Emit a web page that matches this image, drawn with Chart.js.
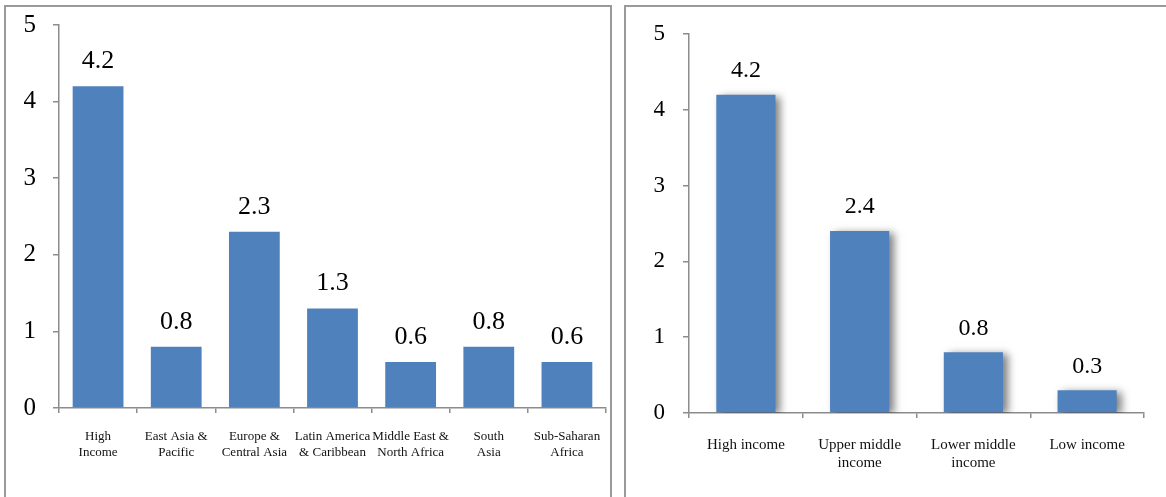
<!DOCTYPE html>
<html>
<head>
<meta charset="utf-8">
<script src="https://cdn.jsdelivr.net/npm/chart.js@4.4.1/dist/chart.umd.min.js"></script>
<style>
  html, body { margin: 0; padding: 0; background: #fff; }
  body { width: 1166px; height: 497px; position: relative; overflow: hidden; }
  .panel { position: absolute; border: 2px solid #9a9a9a; border-bottom: none; background: #fff; }
  #p1 { left: 4px; top: 5px; width: 604px; height: 500px; }
  #p2 { left: 624px; top: 5px; width: 560px; height: 500px; }
  canvas { position: absolute; }
</style>
</head>
<body>
<div class="panel" id="p1"><canvas id="c1"></canvas></div>
<div class="panel" id="p2"><canvas id="c2"></canvas></div>
<script>
// Regions
const regionLabels = [
  ["High", "Income"],
  ["East Asia &", "Pacific"],
  ["Europe &", "Central Asia"],
  ["Latin America", "& Caribbean"],
  ["Middle East &", "North Africa"],
  ["South", "Asia"],
  ["Sub-Saharan", "Africa"]
];
const regionValues = [4.2, 0.8, 2.3, 1.3, 0.6, 0.8, 0.6];

// Income groups
const incomeLabels = [
  "High income",
  ["Upper middle", "income"],
  ["Lower middle", "income"],
  "Low income"
];
const incomeValues = [4.2, 2.4, 0.8, 0.3];

const yTicks = [0, 1, 2, 3, 4, 5];

const BAR = '#4F81BD';
const AXIS = '#8c8c8c';
const SERIF = "'Liberation Serif', 'Times New Roman', serif";

// Writes each bar's value above it; optionally draws a soft shadow under the bars.
function barExtras(labelFont, labelGap, shadow) {
  return {
    id: 'barExtras',
    beforeDatasetsDraw(chart) {
      const ctx = chart.ctx;
      ctx.save();
      if (shadow) {
        ctx.shadowColor = 'rgba(0,0,0,0.5)';
        ctx.shadowBlur = 8;
        ctx.shadowOffsetX = 5;
        ctx.shadowOffsetY = 2;
      }
    },
    afterDatasetsDraw(chart) {
      const ctx = chart.ctx;
      ctx.restore();
      ctx.save();
      ctx.font = labelFont;
      ctx.fillStyle = '#000';
      ctx.textAlign = 'center';
      ctx.textBaseline = 'middle';
      const meta = chart.getDatasetMeta(0);
      const data = chart.data.datasets[0].data;
      meta.data.forEach((bar, i) => {
        ctx.fillText(data[i].toFixed(1), bar.x, bar.y - labelGap);
      });
      ctx.restore();
    }
  };
}

function makeChart(id, w, h, labels, values, cfg) {
  const canvas = document.getElementById(id);
  canvas.style.left = '0px';
  canvas.style.top = '0px';
  canvas.width = w; canvas.height = h;
  canvas.style.width = w + 'px'; canvas.style.height = h + 'px';
  return new Chart(canvas, {
    type: 'bar',
    data: {
      labels: labels,
      datasets: [{
        data: values,
        backgroundColor: BAR,
        borderWidth: 0,
        categoryPercentage: 1,
        barPercentage: cfg.barPct
      }]
    },
    options: {
      responsive: false,
      animation: false,
      events: [],
      layout: { padding: { left: 0, right: cfg.padRight, top: cfg.padTop, bottom: 0 } },
      plugins: { legend: { display: false }, tooltip: { enabled: false } },
      scales: {
        x: {
          grid: { display: true, drawOnChartArea: false, drawTicks: true, tickLength: 5, color: AXIS, lineWidth: 1.5, offset: true },
          border: { display: true, color: AXIS, width: 1.5 },
          ticks: {
            color: '#111', autoSkip: false, maxRotation: 0, minRotation: 0,
            padding: cfg.xPad,
            font: { family: SERIF, size: cfg.xFont, lineHeight: 1.2 }
          },
          afterFit(scale) {
            scale.height = cfg.xHeight;
            scale.paddingLeft = 0; scale.paddingRight = 0;
          }
        },
        y: {
          min: 0, max: 5,
          afterBuildTicks(scale) { scale.ticks = yTicks.map(v => ({ value: v })); },
          grid: { display: true, drawOnChartArea: false, drawTicks: true, tickLength: 6, color: AXIS, lineWidth: 1.5 },
          border: { display: true, color: AXIS, width: 1.5 },
          ticks: {
            color: '#000', padding: cfg.yPad,
            font: { family: SERIF, size: cfg.yFont }
          },
          afterFit(scale) {
            scale.width = cfg.yWidth;
            scale.paddingTop = 0; scale.paddingBottom = 0;
          }
        }
      }
    },
    plugins: [barExtras(cfg.labelFont, cfg.labelGap, cfg.shadow)]
  });
}

// Left panel: by region
makeChart('c1', 602, 490, regionLabels, regionValues, {
  barPct: 0.65,
  padRight: 2, padTop: 18,
  xPad: 16, xFont: 13, xHeight: 89,
  yPad: 17, yFont: 25, yWidth: 53,
  labelFont: "26px " + SERIF, labelGap: 25,
  shadow: false
});

// Right panel: by income group
makeChart('c2', 540, 490, incomeLabels, incomeValues, {
  barPct: 0.52,
  padRight: 22, padTop: 27,
  xPad: 18, xFont: 15, xHeight: 84,
  yPad: 18, yFont: 23, yWidth: 63,
  labelFont: "24px " + SERIF, labelGap: 24,
  shadow: true
});
</script>
</body>
</html>
